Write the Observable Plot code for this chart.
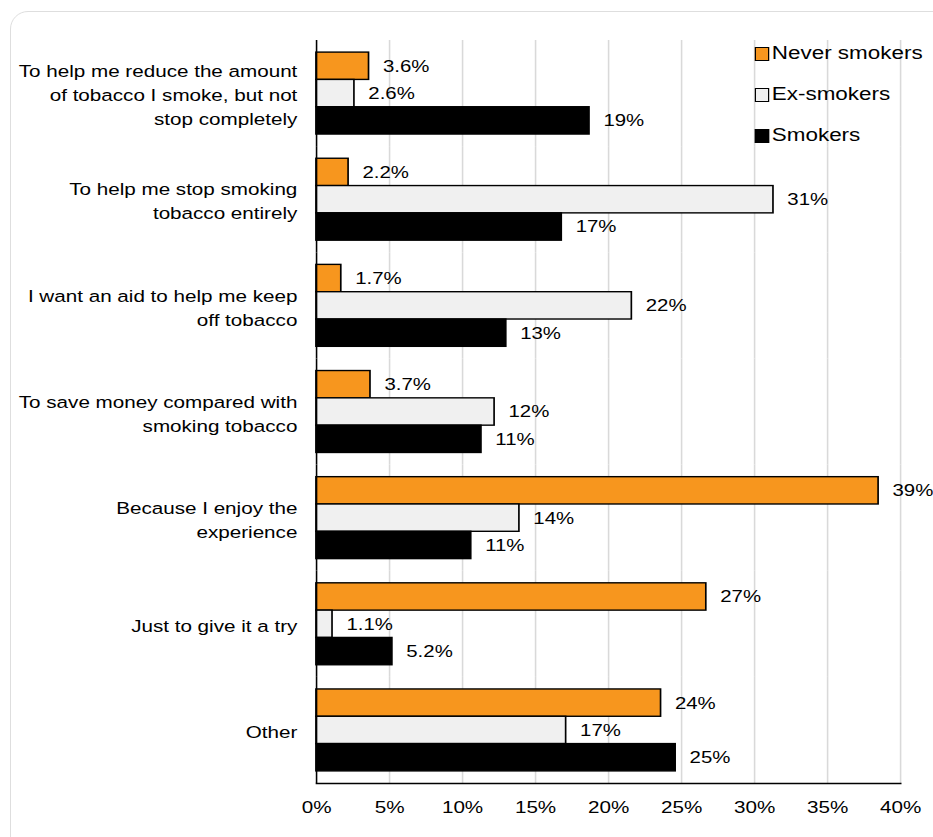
<!DOCTYPE html>
<html><head><meta charset="utf-8">
<script src="https://cdn.jsdelivr.net/npm/d3@7"></script>
<script src="https://cdn.jsdelivr.net/npm/@observablehq/plot@0.6"></script>
<style>
html,body{margin:0;padding:0;background:#fff;overflow:hidden;width:933px;height:837px;}
#box{position:absolute;left:10px;top:11px;width:1000px;height:900px;border:1.5px solid #dedede;border-radius:18px;box-sizing:border-box;}
#wrap{position:absolute;left:0;top:0;width:777.5px;height:837px;transform:scaleX(1.2);transform-origin:0 0;font-family:"Liberation Sans",Arial,sans-serif;color:#000;}
#legend{position:absolute;left:629px;top:33px;}
.item{display:flex;align-items:center;height:41px;font-size:18.7px;line-height:1;}
.sw{width:9.7px;height:12px;border:1px solid #000;margin-right:2.5px;}
</style>
</head><body>
<div id="box"></div>
<div id="wrap"><div id="chart"></div><div id="legend"></div></div>
<script>
const categories = [
  "To help me reduce the amount\nof tobacco I smoke, but not\nstop completely",
  "To help me stop smoking\ntobacco entirely",
  "I want an aid to help me keep\noff tobacco",
  "To save money compared with\nsmoking tobacco",
  "Because I enjoy the\nexperience",
  "Just to give it a try",
  "Other"
];
const series = ["Never smokers", "Ex-smokers", "Smokers"];
const neverSmokers = [3.6, 2.2, 1.7, 3.7, 38.5, 26.7, 23.6];
const exSmokers = [2.6, 31.3, 21.6, 12.2, 13.9, 1.1, 17.1];
const smokers = [18.7, 16.8, 13.0, 11.3, 10.6, 5.2, 24.6];
const xTicks = [0, 5, 10, 15, 20, 25, 30, 35, 40];
const colors = ["#f7961e", "#f0f0f0", "#000000"];

const rows = [];
categories.forEach((c, i) => {
  [neverSmokers, exSmokers, smokers].forEach((arr, j) => rows.push({cat: c, series: series[j], value: arr[i]}));
});
const fmt = v => v < 10 ? v.toFixed(1) + "%" : Math.round(v) + "%";

const chart = Plot.plot({
  width: 777.5, height: 837,
  marginLeft: 263.3, marginRight: 27.5, marginTop: 40, marginBottom: 54,
  style: {fontFamily: '"Liberation Sans", Arial, sans-serif', fontSize: "17.2px", color: "#000", background: "transparent", overflow: "visible"},
  x: {domain: [0, 40]},
  y: {domain: series, paddingInner: 0, paddingOuter: 0.443, round: false, axis: null},
  fy: {domain: categories, padding: 0, round: false},
  color: {domain: series, range: colors},
  marks: [
    Plot.gridX(xTicks.slice(1), {stroke: "#d9d9d9", strokeOpacity: 1, strokeWidth: 1.3}),
    Plot.barX(rows, {fy: "cat", y: "series", x: "value", fill: "series", stroke: "#000", strokeWidth: 1.4}),
    Plot.ruleX([0], {stroke: "#000", strokeWidth: 1.3}),
    Plot.frame({anchor: "bottom", facetAnchor: "bottom", stroke: "#000", strokeWidth: 1.5}),
    Plot.text(rows, {fy: "cat", y: "series", x: "value", text: d => fmt(d.value), textAnchor: "start", dx: 11.5, fill: "#000", fontSize: 17}),
    Plot.axisX(xTicks, {tickSize: 0, tickPadding: 17, tickFormat: d => d + "%", label: null, fontSize: 17.2}),
    Plot.axisFy({anchor: "left", tickSize: 0, tickPadding: 16, label: null, lineHeight: 1.4, fontSize: 17.2})
  ]
});
document.getElementById("chart").appendChild(chart);

const legend = document.getElementById("legend");
series.forEach((s, i) => {
  const item = document.createElement("div");
  item.className = "item";
  const sw = document.createElement("div");
  sw.className = "sw";
  sw.style.background = colors[i];
  const t = document.createElement("span");
  t.textContent = s;
  item.appendChild(sw); item.appendChild(t);
  legend.appendChild(item);
});
</script>
</body></html>
